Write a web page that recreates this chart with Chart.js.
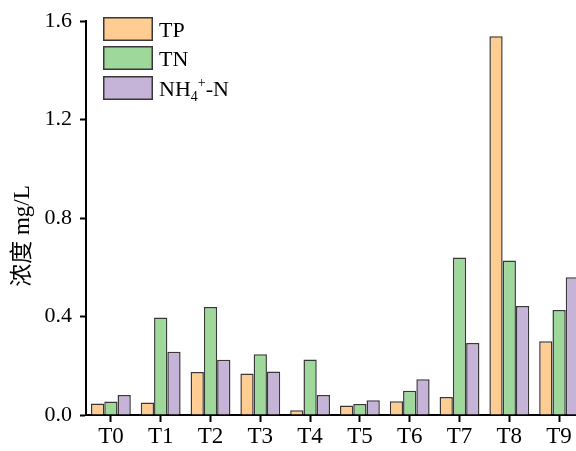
<!DOCTYPE html>
<html>
<head>
<meta charset="utf-8">
<script src="https://cdn.jsdelivr.net/npm/chart.js@4/dist/chart.umd.min.js"></script>
<style>
  html, body { margin: 0; padding: 0; background: #fff; overflow: hidden; }
  #wrap { position: absolute; left: 0; top: 0; width: 600px; height: 451px; }
</style>
</head>
<body>
<div id="wrap"><canvas id="c" width="600" height="451"></canvas></div>
<script>
// Sampling points
const categories = ['T0', 'T1', 'T2', 'T3', 'T4', 'T5', 'T6', 'T7', 'T8', 'T9'];

// Concentrations (mg/L)
const tpValues   = [0.047, 0.051, 0.175, 0.169, 0.019, 0.039, 0.056, 0.073, 1.539, 0.300];
const tnValues   = [0.055, 0.396, 0.439, 0.247, 0.225, 0.045, 0.099, 0.640, 0.628, 0.427];
const nh4Values  = [0.081, 0.257, 0.224, 0.177, 0.081, 0.060, 0.145, 0.293, 0.443, 0.560];

// Series names; "_x" marks a subscript, "^x" a superscript
const seriesNames = ['TP', 'TN', 'NH_4^+-N'];

// Y axis ticks
const yTicks = [0.0, 0.4, 0.8, 1.2, 1.6];
const yTitle = '浓度 mg/L';

const colors = ['#FFCC91', '#9ED89B', '#C5B4D8'];
const edge = '#383838';
const serif = '"Liberation Serif", "Times New Roman", serif';

// Split a label into plain / sub / sup runs
function parseRuns(s) {
  const runs = [];
  let i = 0, buf = '';
  while (i < s.length) {
    const ch = s[i];
    if ((ch === '_' || ch === '^') && i + 1 < s.length) {
      if (buf) { runs.push({ t: buf, k: 'n' }); buf = ''; }
      runs.push({ t: s[i + 1], k: ch === '_' ? 'sub' : 'sup' });
      i += 2;
    } else { buf += ch; i++; }
  }
  if (buf) runs.push({ t: buf, k: 'n' });
  return runs;
}

const legendPlugin = {
  id: 'boxLegend',
  afterDraw(chart) {
    const ctx = chart.ctx;
    const x0 = 103, w = 50, h = 24;
    const rows = [17, 46, 76];
    ctx.save();
    chart.data.datasets.forEach((ds, i) => {
      const y = rows[i];
      ctx.fillStyle = ds.backgroundColor;
      ctx.fillRect(x0, y, w, h);
      ctx.strokeStyle = ds.borderColor;
      ctx.lineWidth = 1.5;
      ctx.strokeRect(x0 + 0.75, y + 0.75, w - 1.5, h - 1.5);
      // label text
      let tx = x0 + 56;
      const base = y + h / 2 + 7.5;
      ctx.fillStyle = '#000';
      ctx.textBaseline = 'alphabetic';
      ctx.textAlign = 'left';
      parseRuns(ds.label).forEach(r => {
        let size = 22, dy = 0;
        if (r.k === 'sub') { size = 14; dy = 5; }
        if (r.k === 'sup') { size = 14; dy = -9; }
        ctx.font = size + 'px ' + serif;
        ctx.fillText(r.t, tx, base + dy);
        tx += ctx.measureText(r.t).width;
      });
    });
    ctx.restore();
  }
};

const yTitlePlugin = {
  id: 'yTitle',
  afterDraw(chart) {
    const ctx = chart.ctx;
    ctx.save();
    ctx.translate(23, 236);
    ctx.rotate(-Math.PI / 2);
    ctx.font = '23px ' + serif + ', "Noto Sans CJK SC"';
    ctx.fillStyle = '#000';
    ctx.textAlign = 'center';
    ctx.textBaseline = 'middle';
    ctx.fillText(yTitle, 0, 0);
    ctx.restore();
  }
};

const seriesValues = [tpValues, tnValues, nh4Values];

new Chart(document.getElementById('c'), {
  type: 'bar',
  data: {
    labels: categories,
    datasets: seriesNames.map((name, i) => ({
      label: name,
      data: seriesValues[i],
      backgroundColor: colors[i],
      borderColor: edge,
      borderWidth: 1.5,
      borderSkipped: 'bottom',
      categoryPercentage: 0.8,
      barPercentage: 1.0
    }))
  },
  options: {
    responsive: false,
    animation: false,
    devicePixelRatio: 1,
    layout: { padding: { top: 15, right: 16, bottom: 0, left: 0 } },
    plugins: { legend: { display: false }, tooltip: { enabled: false } },
    scales: {
      x: {
        offset: true,
        grid: { display: true, drawOnChartArea: false, offset: false, tickLength: 7, tickColor: '#000', tickWidth: 2 },
        border: { display: true, color: '#000', width: 2 },
        ticks: { color: '#000', font: { family: serif, size: 23 }, padding: 1, maxRotation: 0, autoSkip: false },
        afterFit(scale) { scale.height = 36; }
      },
      y: {
        min: 0,
        max: 1.6,
        afterBuildTicks(scale) { scale.ticks = yTicks.map(v => ({ value: v })); },
        grid: { display: true, drawOnChartArea: false, tickLength: 6, tickColor: '#000', tickWidth: 2 },
        border: { display: true, color: '#000', width: 2 },
        ticks: { color: '#000', font: { family: serif, size: 22 }, padding: 8, callback: v => Number(v).toFixed(1) },
        afterFit(scale) { scale.width = 86; }
      }
    }
  },
  plugins: [legendPlugin, yTitlePlugin]
});
</script>
</body>
</html>
